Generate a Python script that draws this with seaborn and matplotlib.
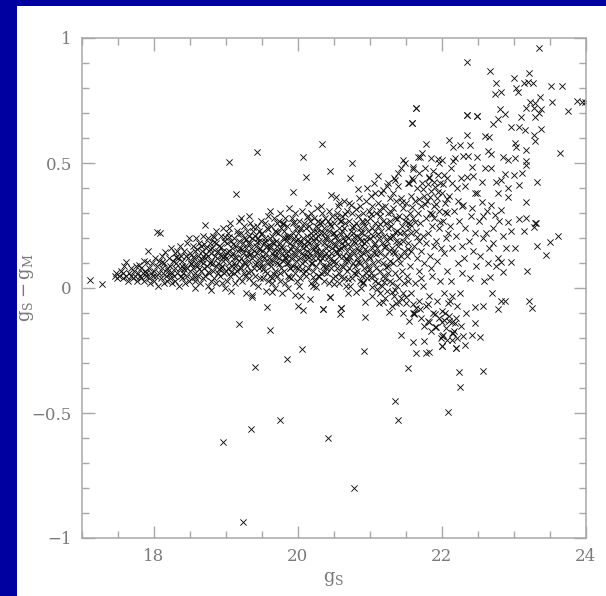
import matplotlib
matplotlib.use("Agg")
import matplotlib.pyplot as plt
import seaborn as sns
import pandas as pd
from matplotlib.ticker import FixedLocator, MultipleLocator
from matplotlib.patches import Rectangle

# ---- data: (g_S, g_S - g_M) ----
core_left = [
    (17.46,0.05),(17.48,0.06),(17.49,0.04),
    (17.52,0.05),(17.55,0.07),(17.57,0.04),(17.58,0.06),(17.59,0.09),
    (17.61,0.05),(17.62,0.105),(17.64,0.03),(17.66,0.06),(17.68,0.08),(17.69,0.05),
    (17.71,0.04),(17.72,0.07),(17.74,0.05),(17.75,0.09),(17.77,0.03),(17.78,0.06),(17.79,0.092),
    (17.81,0.05),(17.82,0.08),(17.83,0.04),(17.85,0.06),(17.86,0.11),(17.87,0.03),(17.88,0.07),(17.89,0.05),
    (17.90,0.06),(17.91,0.105),(17.92,0.149),(17.93,0.04),(17.94,0.08),(17.95,0.02),(17.96,0.06),(17.97,0.10),(17.99,0.05),
    (18.00,0.07),(18.01,0.03),(18.02,0.12),(18.03,0.05),(18.04,0.09),(18.05,0.223),(18.06,0.01),(18.07,0.06),(18.08,0.11),(18.09,0.219),
    (18.10,0.04),(18.11,0.08),(18.12,0.13),(18.13,0.06),(18.14,0.02),(18.15,0.10),(18.16,0.145),(18.17,0.05),(18.18,0.08),(18.19,0.03),
    (18.20,0.07),(18.21,0.12),(18.22,0.04),(18.23,0.09),(18.24,0.16),(18.25,0.02),(18.26,0.06),(18.27,0.11),(18.28,0.05),(18.29,0.14),(18.29,0.08),
    (18.30,0.03),(18.31,0.10),(18.32,0.149),(18.33,0.06),(18.34,0.12),(18.35,0.01),(18.36,0.08),(18.37,0.17),(18.38,0.05),(18.38,0.13),(18.39,0.09),(18.39,0.04),
    (18.40,0.11),(18.41,0.06),(18.42,0.15),(18.43,0.02),(18.44,0.09),(18.45,0.13),(18.46,0.05),(18.46,0.18),(18.47,0.08),(18.48,0.12),(18.49,0.199),(18.49,0.03),
    (18.50,0.07),(18.51,0.14),(18.52,0.10),(18.53,0.04),(18.54,0.17),(18.55,0.08),(18.56,0.12),(18.57,0.00),(18.57,0.06),(18.58,0.15),(18.59,0.10),(18.59,0.20),(18.58,0.03),
    (18.60,0.09),(18.61,0.13),(18.62,0.05),(18.63,0.18),(18.64,0.11),(18.65,0.02),(18.66,0.07),(18.67,0.15),(18.68,0.10),(18.68,0.21),(18.69,0.04),(18.69,0.13),(18.66,0.17),
    (18.70,0.08),(18.71,0.252),(18.71,0.12),(18.72,0.05),(18.73,0.16),(18.74,0.09),(18.75,0.20),(18.75,0.01),(18.76,0.13),(18.77,0.06),(18.78,0.18),(18.78,0.10),(18.79,0.14),(18.79,0.03),
    (18.80,-0.008),(18.80,0.11),(18.81,0.16),(18.82,0.07),(18.83,0.21),(18.84,0.203),(18.84,0.04),(18.85,0.13),(18.86,0.09),(18.87,0.18),(18.87,0.02),(18.88,0.12),(18.89,0.06),(18.89,0.15),(18.86,0.23),
    (18.90,0.10),(18.91,0.17),(18.92,0.05),(18.93,0.13),(18.94,0.21),(18.94,0.08),(18.95,0.02),(18.96,0.15),(18.97,0.239),(18.97,0.11),(18.98,0.06),(18.98,0.19),(18.99,0.13),(18.99,0.00),(18.95,0.09),
]

core_mid = [
    (19.00,0.12),(19.01,0.07),(19.02,0.18),(19.02,0.03),(19.03,0.22),(19.04,0.10),(19.05,0.15),(19.06,0.05),(19.06,0.26),(19.07,0.13),(19.08,0.19),(19.08,-0.01),(19.09,0.09),(19.09,0.16),(19.05,0.24),(19.03,0.08),
    (19.10,0.14),(19.11,0.06),(19.12,0.20),(19.12,0.10),(19.13,0.02),(19.14,0.375),(19.14,0.17),(19.15,0.12),(19.16,0.07),(19.16,0.23),(19.17,0.15),(19.18,0.04),(19.18,0.19),(19.19,0.11),(19.19,0.27),(19.13,0.09),
    (19.20,0.16),(19.21,0.08),(19.21,0.22),(19.22,0.12),(19.23,0.03),(19.24,0.18),(19.24,0.14),(19.25,0.25),(19.26,0.06),(19.26,0.20),(19.27,0.10),(19.28,0.16),(19.28,-0.02),(19.29,0.13),(19.29,0.23),(19.27,0.05),(19.22,0.28),
    (19.30,0.09),(19.31,0.18),(19.31,0.14),(19.32,0.04),(19.33,0.21),(19.33,0.11),(19.34,0.26),(19.35,0.07),(19.35,0.16),(19.36,-0.035),(19.36,0.20),(19.37,0.12),(19.38,0.02),(19.38,0.23),(19.39,0.15),(19.39,0.08),(19.34,0.18),(19.32,0.29),
    (19.40,0.13),(19.41,0.21),(19.41,0.05),(19.42,0.17),(19.43,0.10),(19.43,0.543),(19.44,0.25),(19.44,0.14),(19.45,0.01),(19.46,0.19),(19.46,0.08),(19.47,0.23),(19.47,0.12),(19.48,0.16),(19.48,0.04),(19.49,0.27),(19.49,0.10),(19.45,0.20),
    (19.50,0.15),(19.51,0.09),(19.51,0.22),(19.52,0.04),(19.53,0.18),(19.53,0.12),(19.54,0.26),(19.55,0.07),(19.55,0.20),(19.56,0.14),(19.56,-0.01),(19.57,0.24),(19.58,0.10),(19.58,0.17),(19.59,0.03),(19.59,0.29),(19.52,0.13),(19.54,0.19),(19.57,0.06),
    (19.60,0.12),(19.61,0.20),(19.61,0.05),(19.62,0.16),(19.63,0.25),(19.63,0.09),(19.64,0.14),(19.65,0.21),(19.65,0.02),(19.66,0.18),(19.66,0.11),(19.67,0.28),(19.68,0.07),(19.68,0.23),(19.69,0.15),(19.69,0.00),(19.62,0.31),(19.64,0.04),(19.67,0.13),(19.61,0.17),
    (19.70,0.19),(19.71,0.10),(19.71,0.26),(19.72,0.05),(19.73,0.15),(19.73,0.22),(19.74,0.12),(19.75,0.03),(19.75,0.18),(19.76,0.30),(19.77,0.08),(19.77,0.24),(19.78,0.14),(19.78,-0.02),(19.79,0.20),(19.79,0.11),(19.72,0.17),(19.74,0.27),(19.76,0.06),(19.70,0.13),
    (19.80,0.16),(19.81,0.07),(19.81,0.23),(19.82,0.12),(19.83,0.28),(19.83,0.02),(19.84,0.19),(19.85,0.10),(19.85,0.25),(19.86,0.15),(19.86,0.05),(19.87,0.21),(19.88,0.13),(19.88,0.32),(19.89,0.08),(19.89,0.18),(19.82,0.20),(19.84,0.14),(19.87,0.00),(19.80,0.26),(19.86,0.10),
    (19.90,0.21),(19.91,0.12),(19.91,0.04),(19.92,0.17),(19.93,0.385),(19.93,0.26),(19.94,0.09),(19.94,0.22),(19.95,0.14),(19.96,0.30),(19.96,0.06),(19.97,0.19),(19.97,-0.028),(19.98,0.11),(19.98,0.24),(19.99,0.16),(19.99,0.03),(19.92,0.28),(19.95,0.20),(19.97,0.13),(19.90,0.08),
    (20.00,0.15),(20.00,-0.072),(20.01,0.22),(20.01,0.08),(20.02,0.27),(20.03,0.12),(20.03,0.18),(20.04,0.04),(20.05,-0.031),(20.05,0.24),(20.06,0.10),(20.06,0.31),(20.07,0.523),(20.07,0.16),(20.07,-0.088),(20.08,0.20),(20.08,0.06),(20.09,0.13),(20.09,0.26),(20.02,0.01),(20.04,0.19),(20.06,0.14),
    (20.10,0.11),(20.11,0.24),(20.11,0.17),(20.12,0.443),(20.12,0.05),(20.13,0.21),(20.13,0.13),(20.14,0.29),(20.15,0.339),(20.15,0.08),(20.16,0.18),(20.16,0.25),(20.17,-0.045),(20.17,0.14),(20.18,0.02),(20.18,0.22),(20.19,0.10),(20.19,0.30),(20.11,0.07),(20.14,0.19),(20.17,0.27),(20.13,0.15),
    (20.20,0.16),(20.21,0.23),(20.21,0.07),(20.22,0.12),(20.23,0.28),(20.23,0.19),(20.24,0.03),(20.25,0.005),(20.25,0.14),(20.26,0.25),(20.26,0.09),(20.27,0.32),(20.27,0.17),(20.28,0.05),(20.28,0.21),(20.29,0.12),(20.29,0.27),(20.22,0.01),(20.24,0.20),(20.26,0.15),(20.20,0.10),(20.28,0.24),
    (20.30,0.19),(20.31,0.11),(20.31,0.26),(20.32,0.06),(20.33,0.22),(20.33,0.15),(20.34,0.576),(20.34,0.30),(20.35,-0.085),(20.35,0.09),(20.36,0.18),(20.36,0.24),(20.37,0.03),(20.37,0.13),(20.38,0.28),(20.38,0.20),(20.39,0.08),(20.39,0.16),(20.32,0.33),(20.34,0.12),(20.30,0.05),(20.37,0.22),
    (20.40,0.14),(20.41,0.21),(20.41,0.06),(20.42,0.27),(20.42,0.17),(20.43,0.10),(20.44,0.31),(20.44,0.02),(20.45,-0.035),(20.45,0.469),(20.45,0.19),(20.46,0.372),(20.46,0.12),(20.47,0.25),(20.47,0.08),(20.48,0.16),(20.48,0.29),(20.49,0.04),(20.49,0.22),(20.43,0.23),(20.40,0.09),(20.46,0.14),
    (20.50,0.18),(20.51,0.11),(20.51,0.26),(20.52,0.05),(20.53,0.365),(20.53,0.21),(20.54,0.15),(20.55,0.30),(20.55,0.08),(20.56,0.19),(20.57,0.02),(20.57,0.24),(20.58,0.339),(20.58,0.13),(20.59,-0.105),(20.59,0.27),(20.52,0.17),(20.54,0.10),(20.56,0.33),(20.58,0.06),(20.50,0.22),(20.55,0.14),
    (20.60,-0.081),(20.60,0.16),(20.61,0.23),(20.61,0.09),(20.62,0.29),(20.63,0.13),(20.63,0.20),(20.64,0.04),(20.65,0.35),(20.65,0.17),(20.66,0.11),(20.66,0.26),(20.67,0.01),(20.68,0.21),(20.68,0.15),(20.69,0.31),(20.69,0.07),(20.62,0.18),(20.64,0.24),(20.67,0.12),(20.60,0.27),(20.66,0.19),
    (20.70,-0.021),(20.70,0.20),(20.71,0.13),(20.72,0.27),(20.72,0.08),(20.73,0.439),(20.73,0.17),(20.74,0.332),(20.74,0.23),(20.75,0.04),(20.75,0.15),(20.76,0.499),(20.76,0.30),(20.77,0.10),(20.78,0.19),(20.78,0.25),(20.79,0.06),(20.79,0.14),(20.71,0.34),(20.73,0.01),(20.77,0.22),(20.70,0.11),
    (20.80,0.18),(20.81,-0.015),(20.81,0.26),(20.82,0.12),(20.83,0.21),(20.83,0.07),(20.84,0.395),(20.84,0.29),(20.85,0.15),(20.86,0.03),(20.86,0.24),(20.87,0.10),(20.87,0.33),(20.88,0.19),(20.88,0.13),(20.89,0.05),(20.89,0.27),(20.82,0.16),(20.85,0.36),(20.80,0.09),(20.86,0.20),(20.88,0.00),
    (20.90,0.22),(20.91,0.14),(20.91,0.30),(20.92,0.08),(20.92,0.18),(20.93,-0.055),(20.93,0.25),(20.94,-0.115),(20.94,0.11),(20.95,0.35),(20.95,0.19),(20.96,0.04),(20.96,0.27),(20.97,0.15),(20.97,0.40),(20.98,0.09),(20.98,0.23),(20.99,0.13),(20.99,0.31),(20.91,0.02),(20.95,0.06),(20.90,0.17),
]

core_right = [
    (21.00,0.20),(21.01,0.12),(21.01,0.28),(21.02,0.06),(21.03,0.24),(21.03,0.16),(21.04,0.005),(21.04,0.33),(21.05,0.10),(21.05,0.21),(21.06,0.42),(21.06,0.14),(21.07,0.379),(21.07,0.26),(21.08,0.03),(21.08,0.18),(21.09,0.30),(21.09,0.08),(21.02,0.37),(21.04,-0.03),(21.06,0.05),(21.08,0.23),
    (21.10,0.16),(21.11,0.25),(21.11,0.02),(21.12,0.34),(21.12,0.11),(21.13,0.20),(21.14,-0.02),(21.14,0.29),(21.15,0.07),(21.15,0.14),(21.16,0.38),(21.16,0.23),(21.17,0.01),(21.17,0.18),(21.18,0.392),(21.18,-0.055),(21.18,0.10),(21.19,0.27),(21.19,0.05),(21.12,0.45),(21.15,0.31),(21.13,-0.06),
    (21.20,0.21),(21.21,0.13),(21.21,0.33),(21.22,0.04),(21.23,0.26),(21.23,0.17),(21.24,-0.01),(21.24,0.41),(21.25,0.419),(21.25,0.09),(21.26,0.24),(21.26,0.30),(21.27,-0.095),(21.27,0.15),(21.28,0.03),(21.28,0.36),(21.29,0.20),(21.29,0.11),(21.22,-0.04),(21.24,0.19),(21.26,0.06),(21.28,0.27),
    (21.30,0.25),(21.31,0.16),(21.31,0.02),(21.32,0.32),(21.33,0.10),(21.33,0.21),(21.34,0.44),(21.34,-0.03),(21.35,-0.008),(21.35,0.432),(21.35,0.28),(21.36,0.14),(21.36,0.06),(21.37,-0.059),(21.37,0.35),(21.37,0.19),(21.38,0.23),(21.38,0.01),(21.39,0.459),(21.39,0.12),(21.33,0.38),(21.31,-0.07),
    (21.40,0.17),(21.41,0.29),(21.41,0.04),(21.42,0.22),(21.43,-0.04),(21.43,0.36),(21.44,0.13),(21.44,0.48),(21.45,0.25),(21.45,0.07),(21.46,0.512),(21.46,0.19),(21.47,-0.10),(21.47,0.32),(21.48,0.02),(21.48,0.15),(21.49,0.501),(21.49,0.27),(21.42,0.10),(21.46,-0.02),(21.40,0.41),
    (21.50,0.21),(21.51,0.34),(21.51,-0.06),(21.52,0.13),(21.53,0.419),(21.53,0.26),(21.54,0.03),(21.54,0.18),(21.55,0.421),(21.55,-0.13),(21.56,0.30),(21.56,0.09),(21.57,0.37),(21.57,-0.02),(21.58,0.22),(21.58,0.15),(21.59,0.659),(21.59,0.44),(21.52,0.05),(21.55,0.24),
    (21.60,0.432),(21.60,0.28),(21.61,0.475),(21.61,0.483),(21.61,-0.101),(21.62,-0.104),(21.62,0.17),(21.63,0.35),(21.63,0.02),(21.64,0.23),(21.65,0.719),(21.65,-0.08),(21.66,0.40),(21.66,0.12),(21.67,0.525),(21.67,0.30),(21.68,-0.05),(21.68,0.19),(21.69,0.46),(21.69,0.07),
    (21.70,0.525),(21.70,0.26),(21.71,-0.12),(21.72,0.33),(21.72,0.15),(21.73,0.539),(21.73,0.42),(21.74,0.01),(21.74,0.21),(21.75,-0.15),(21.76,0.37),(21.76,0.10),(21.77,0.48),(21.78,0.28),(21.78,-0.07),(21.79,0.575),(21.79,0.18),(21.71,0.04),
    (21.80,0.35),(21.81,-0.131),(21.81,0.22),(21.82,0.44),(21.83,0.445),(21.83,-0.03),(21.84,0.30),(21.84,0.13),(21.85,-0.17),(21.86,0.521),(21.86,0.39),(21.87,0.05),(21.87,0.25),(21.88,-0.10),(21.88,0.47),(21.89,0.17),(21.89,0.33),(21.85,0.08),
    (21.90,0.28),(21.91,0.405),(21.92,-0.155),(21.92,0.19),(21.93,0.36),(21.93,-0.05),(21.94,0.11),(21.95,0.515),(21.95,0.452),(21.96,0.24),(21.96,-0.12),(21.97,0.501),(21.97,0.31),(21.98,0.03),(21.98,0.42),(21.99,-0.20),(21.99,0.16),
    (22.00,0.379),(22.01,0.512),(22.01,-0.09),(22.02,0.27),(22.03,0.14),(22.04,0.452),(22.04,-0.02),(22.05,0.34),(22.06,0.20),(22.06,-0.16),(22.07,0.44),(22.08,0.07),(22.08,0.30),(22.09,-0.06),(22.09,0.22),
    (22.10,0.37),(22.11,0.592),(22.11,-0.11),(22.12,0.25),(22.13,0.03),(22.13,0.48),(22.14,0.16),(22.15,0.421),(22.15,-0.03),(22.16,0.563),(22.16,0.509),(22.17,0.31),(22.18,0.519),(22.18,-0.14),
    (22.20,0.21),(22.21,0.40),(22.22,-0.07),(22.23,0.35),(22.23,0.10),(22.24,0.27),(22.25,0.572),(22.26,-0.02),(22.27,0.44),(22.28,0.17),(22.28,0.06),(22.29,0.33),
    (22.30,0.528),(22.30,0.332),(22.31,0.12),(22.32,0.408),(22.33,0.24),(22.34,-0.10),(22.35,0.612),(22.35,0.445),(22.36,0.692),(22.37,0.528),(22.38,0.19),
    (22.39,0.572),(22.40,0.04),(22.41,0.29),(22.42,0.485),(22.42,0.319),(22.43,0.15),(22.44,0.448),(22.46,0.38),(22.47,0.22),(22.48,0.09),
    (22.49,0.525),(22.49,0.688),(22.49,0.379),(22.52,0.27),(22.54,0.13),(22.56,0.425),(22.56,0.345),(22.58,0.20),(22.59,0.03),
    (22.60,0.608),(22.60,0.479),(22.63,0.31),(22.64,0.549),(22.66,0.605),(22.66,0.16),(22.68,0.045),(22.69,0.332),(22.69,0.536),
    (22.69,0.481),(22.71,0.656),(22.72,0.24),(22.74,0.775),(22.74,0.292),(22.76,0.425),(22.76,0.819),(22.78,0.12),
    (22.79,0.675),(22.79,0.379),(22.81,0.715),(22.83,0.785),(22.83,0.432),(22.83,0.312),(22.86,0.525),(22.88,0.696),
    (22.88,0.456),(22.93,0.512),(22.93,0.399),(22.93,0.365),(22.93,0.265),(22.96,0.643),(22.96,0.105),
    (22.62,0.22),(22.71,0.18),(22.75,0.09),(22.85,0.21),(22.90,0.16),(22.64,0.10),(22.58,0.29),(22.80,0.27),(22.97,0.23),(22.70,-0.02),
]

core_fill = [
    (19.015,0.145),(19.045,0.205),(19.075,0.065),(19.105,0.175),(19.135,0.125),(19.165,0.215),(19.195,0.085),(19.225,0.155),(19.255,0.105),(19.285,0.195),
    (19.315,0.065),(19.345,0.135),(19.375,0.245),(19.405,0.095),(19.435,0.185),(19.465,0.155),(19.495,0.215),(19.525,0.075),(19.555,0.165),(19.585,0.235),
    (19.615,0.105),(19.645,0.185),(19.675,0.055),(19.705,0.225),(19.735,0.095),(19.765,0.165),(19.795,0.255),(19.825,0.125),(19.855,0.205),(19.885,0.045),
    (19.915,0.155),(19.945,0.265),(19.975,0.085),(20.005,0.195),(20.035,0.235),(20.065,0.075),(20.095,0.175),(20.125,0.285),(20.155,0.125),(20.185,0.205),
    (20.215,0.045),(20.245,0.165),(20.275,0.225),(20.305,0.135),(20.335,0.265),(20.365,0.065),(20.395,0.195),(20.425,0.125),(20.455,0.255),(20.485,0.105),
    (20.515,0.205),(20.545,0.285),(20.575,0.155),(20.605,0.215),(20.635,0.085),(20.665,0.295),(20.695,0.175),(20.725,0.125),(20.755,0.245),(20.785,0.205),
    (20.815,0.315),(20.845,0.105),(20.875,0.225),(20.905,0.265),(20.935,0.155),(20.965,0.205),(20.995,0.075),(21.025,0.295),(21.055,0.175),(21.085,0.135),
    (21.115,0.215),(21.145,0.255),(21.175,0.325),(21.205,0.165),(21.235,0.085),(21.265,0.205),(21.295,0.305),(21.325,0.145),(21.355,0.225),(21.385,0.275),
    (21.415,0.185),(21.445,0.345),(21.475,0.225),(21.505,0.285),(21.535,0.155),(21.565,0.255),(21.595,0.325),(21.625,0.265),(21.655,0.205),(21.685,0.355),
    (18.515,0.095),(18.545,0.125),(18.575,0.045),(18.605,0.155),(18.635,0.075),(18.665,0.115),(18.695,0.175),(18.725,0.135),(18.755,0.065),(18.785,0.155),
    (18.815,0.095),(18.845,0.185),(18.875,0.145),(18.905,0.075),(18.935,0.165),(18.965,0.125),(18.995,0.205),(18.115,0.105),(18.215,0.055),(18.315,0.125),(18.415,0.075),
    (21.015,0.045),(21.105,-0.005),(21.205,0.025),(21.305,-0.015),(21.405,-0.055),(21.505,-0.035),(21.605,-0.065),(21.705,-0.085),(21.805,-0.065),(21.905,-0.105),(22.005,-0.135),
    (20.505,0.015),(20.605,0.045),(20.705,0.035),(20.805,0.055),(20.905,0.025),
    (21.745,0.395),(21.775,0.335),(21.805,0.415),(21.835,0.365),(21.865,0.295),(21.895,0.425),(21.925,0.335),(21.955,0.385),(21.985,0.265),(22.015,0.415),(22.045,0.305),(22.075,0.355),
]

upper_right = [
    (23.35,0.961),(22.36,0.905),(22.68,0.869),(23.21,0.859),(23.00,0.839),(23.14,0.821),(23.20,0.825),(23.27,0.819),
    (23.04,0.799),(23.06,0.785),(23.52,0.808),(23.67,0.808),(23.88,0.748),(23.95,0.745),(23.99,0.745),(23.53,0.745),
    (23.75,0.708),(23.37,0.765),(23.23,0.745),(23.30,0.741),(23.28,0.719),(23.18,0.719),(23.38,0.715),(23.35,0.699),
    (23.30,0.683),(23.11,0.685),(23.07,0.643),(23.16,0.632),(23.38,0.636),(23.28,0.612),(23.30,0.589),(23.64,0.539),
    (23.02,0.579),(23.04,0.563),(23.17,0.552),(23.02,0.519),(23.18,0.509),(23.18,0.492),(23.00,0.452),(23.12,0.459),
    (23.32,0.423),(23.07,0.412),(23.18,0.343),(23.07,0.275),(23.18,0.279),(23.30,0.259),(23.62,0.209),(23.51,0.183),
    (23.45,0.132),(23.32,0.168),(23.19,0.068),(23.22,-0.052),(23.25,-0.081),(23.14,0.228),(23.28,0.243),(23.31,0.261),
    (23.02,0.159),(22.83,0.105),(22.86,0.065),(22.36,0.692),(22.49,0.688),(21.65,0.719),(21.59,0.659),
]

lower_tail = [
    (22.82,-0.051),(22.88,-0.052),(22.79,-0.085),(22.58,-0.072),(22.46,-0.077),(22.46,-0.141),(22.54,-0.195),
    (22.42,-0.188),(22.32,-0.228),(22.20,-0.239),(22.00,-0.232),(22.16,-0.181),(22.02,-0.188),(22.57,-0.331),
    (22.05,-0.10),(22.10,-0.13),(22.17,-0.17),(22.22,-0.20),(22.27,-0.15),(22.12,-0.05),(22.20,-0.12),(22.30,-0.19),
    (21.82,-0.135),(21.91,-0.155),(22.03,-0.128),(22.15,-0.137),(21.44,-0.188),(21.61,-0.217),(21.75,-0.211),
    (21.64,-0.259),(21.78,-0.259),(21.83,-0.255),(22.01,-0.191),(22.07,-0.208),(22.15,-0.181),(22.15,-0.208),
    (22.01,-0.231),(22.20,-0.241),(21.54,-0.321),(22.24,-0.335),(22.25,-0.395),(22.09,-0.497),
    (19.57,-0.075),(19.37,-0.028),(19.65,-0.015),(20.35,-0.085),(20.45,-0.035),(20.60,-0.081),(21.62,-0.101),
]

outliers = [
    (17.12,0.032),(17.28,0.016),(19.04,0.504),(19.18,-0.143),(19.61,-0.168),(20.06,-0.243),(19.85,-0.285),
    (19.41,-0.317),(20.92,-0.251),(21.36,-0.453),(21.40,-0.528),(19.75,-0.528),(19.35,-0.565),(18.96,-0.617),
    (20.42,-0.601),(20.79,-0.801),(19.24,-0.936),
]

x_ticks = [18, 20, 22, 24]
x_tick_labels = ["18", "20", "22", "24"]
y_ticks = [-1, -0.5, 0, 0.5, 1]
y_tick_labels = ["\u22121", "\u22120.5", "0", "0.5", "1"]

points = core_left + core_mid + core_right + core_fill + upper_right + lower_tail + outliers
df = pd.DataFrame(points, columns=["gs", "dg"])

sns.set_style("ticks")
plt.rcParams["font.family"] = ["DejaVu Serif"]
plt.rcParams["mathtext.fontset"] = "dejavuserif"

W, H = 606, 596
fig = plt.figure(figsize=(W / 100, H / 100), dpi=100, facecolor="#0000a0")
fig.patches.append(Rectangle((17 / W, 0), 1 - 17 / W, 1 - 6 / H, transform=fig.transFigure,
                             facecolor="white", edgecolor="none", zorder=-10))
ax = fig.add_axes([81.7 / W, 58 / H, 503.8 / W, 500 / H])
ax.set_zorder(1)
ax.set_facecolor("white")

sns.scatterplot(data=df, x="gs", y="dg", marker="x", s=20, color="#111111",
                linewidth=0.65, ax=ax, legend=False)

ax.set_xlim(17, 24)
ax.set_ylim(-1, 1)
ax.xaxis.set_major_locator(FixedLocator(x_ticks))
ax.set_xticklabels(x_tick_labels)
ax.yaxis.set_major_locator(FixedLocator(y_ticks))
ax.set_yticklabels(y_tick_labels)
ax.xaxis.set_minor_locator(MultipleLocator(0.5))
ax.yaxis.set_minor_locator(MultipleLocator(0.1))

grey = "#a8a8a8"
for sp in ax.spines.values():
    sp.set_color(grey)
    sp.set_linewidth(1.1)
ax.tick_params(which="both", direction="in", top=True, right=True, color=grey,
               labelcolor="#7a7a7a", labelsize=12, width=1.0)
ax.tick_params(which="major", length=9, pad=7)
ax.tick_params(which="minor", length=5)

ax.set_xlabel(r"$\mathrm{g_S}$", fontsize=13, color="#7a7a7a")
ax.set_ylabel(r"$\mathrm{g_S - g_M}$", fontsize=13, color="#7a7a7a")
ax.xaxis.set_label_coords(0.5, -0.065)
ax.yaxis.set_label_coords(-0.09, 0.5)

fig.savefig("out.png", dpi=100, facecolor=fig.get_facecolor())
